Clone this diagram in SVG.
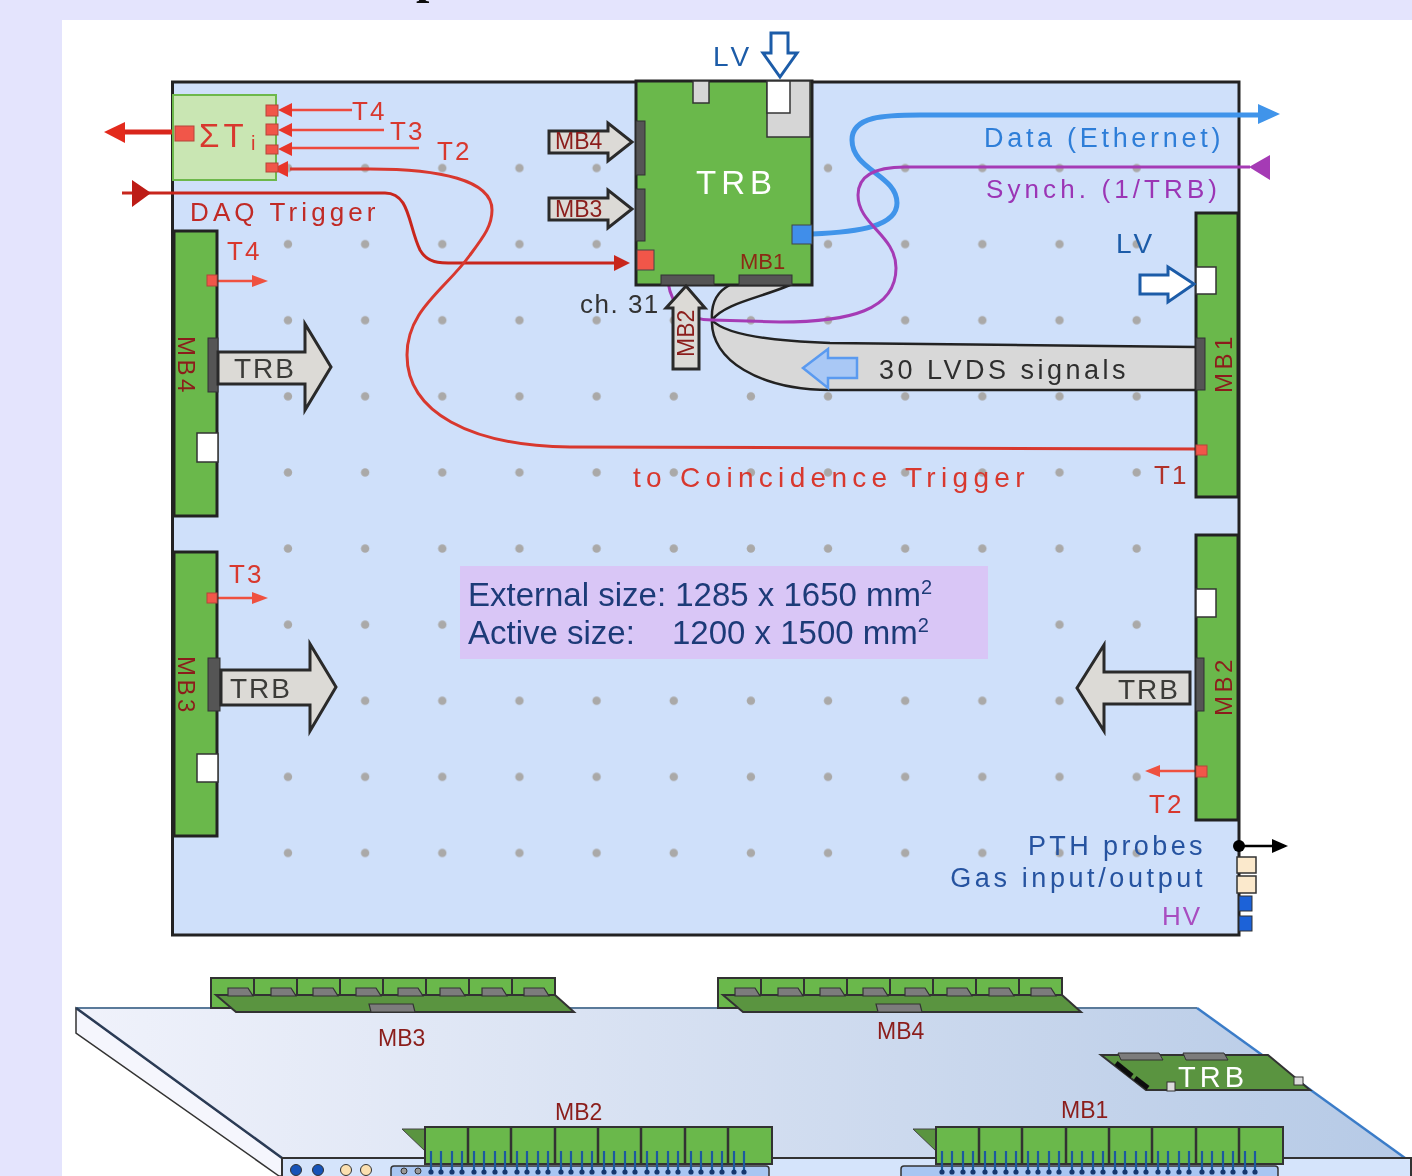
<svg xmlns="http://www.w3.org/2000/svg" xmlns:xlink="http://www.w3.org/1999/xlink" width="1412" height="1176" viewBox="0 0 1412 1176">
<style>
text{font-family:"Liberation Sans",Arial,sans-serif}
.board{fill:#6bb84c;stroke:#222;stroke-width:3}
.conn{fill:#555;stroke:#333;stroke-width:1}
.white{fill:#fff;stroke:#333;stroke-width:1.5}
.grey{fill:#d6d6d6;stroke:#333;stroke-width:1.5}
.fat{fill:#dcdad6;stroke:#2a2a2a;stroke-width:3}
.hollow{fill:#fff;stroke:#1d5ca8;stroke-width:3}
.sq{fill:#f1564a;stroke:#b5443a;stroke-width:1}
.red{fill:#d8382e}
.t26{font-size:26px;letter-spacing:2px}
.mb{font-size:23px;fill:#8b1f1a}
.mbv{font-size:24px;letter-spacing:3.500px;fill:#8b1f1a}
.trb{font-size:28px;letter-spacing:2px;fill:#3a3a38}
.small3d{font-size:23px;fill:#8b1f1a}
</style>
<defs>
<filter id="soft" x="0" y="0" width="100%" height="100%"><feGaussianBlur stdDeviation="0.5"/></filter>
<pattern id="dots" x="249.500" y="130" width="77.150" height="76.100" patternUnits="userSpaceOnUse"><circle cx="38.500" cy="38" r="4.200" fill="#aaa9a8"/></pattern>
<linearGradient id="panel" x1="0" x2="1" y1="0" y2="0"><stop offset="0" stop-color="#f0f2fb"/><stop offset="1" stop-color="#b6cae6"/></linearGradient>
<g id="cell3d"><rect x="0" y="0" width="43" height="30" fill="#6bb84c" stroke="#333" stroke-width="2"/></g>
<g id="chip"><path d="M12 16h20l5 8H12z" fill="#7c7c7c" stroke="#333" stroke-width="1.200"/></g>
<g id="top3d">
<use xlink:href="#cell3d" x="0"/><use xlink:href="#cell3d" x="43"/><use xlink:href="#cell3d" x="86"/><use xlink:href="#cell3d" x="129"/><use xlink:href="#cell3d" x="172"/><use xlink:href="#cell3d" x="215"/><use xlink:href="#cell3d" x="258"/><use xlink:href="#cell3d" x="301"/>
<path d="M5 17H344L363 34H25Z" fill="#5a9440" stroke="#333" stroke-width="2"/>
<use xlink:href="#chip" x="5" y="-6"/><use xlink:href="#chip" x="48" y="-6"/><use xlink:href="#chip" x="90" y="-6"/><use xlink:href="#chip" x="133" y="-6"/><use xlink:href="#chip" x="175" y="-6"/><use xlink:href="#chip" x="217" y="-6"/><use xlink:href="#chip" x="259" y="-6"/><use xlink:href="#chip" x="301" y="-6"/>
<path d="M158 26h44l2 8h-44z" fill="#7c7c7c" stroke="#333" stroke-width="1.200"/>
</g>
<g id="pins"><path d="M6 24V46M16 24V46M27 24V46M37 24V46" stroke="#1d5a9e" stroke-width="2.200" fill="none"/><g fill="#14386e"><circle cx="6" cy="45" r="2.600"/><circle cx="16" cy="45" r="2.600"/><circle cx="27" cy="45" r="2.600"/><circle cx="37" cy="45" r="2.600"/></g></g>
<g id="pins2"><path d="M6 24V46M16 24V46" stroke="#1d5a9e" stroke-width="2.200" fill="none"/><g fill="#14386e"><circle cx="6" cy="45" r="2.600"/><circle cx="16" cy="45" r="2.600"/></g></g>
<g id="front3d">
<path d="M-23 2H0V24Z" fill="#5a9440" stroke="#444" stroke-width="1"/>
<rect x="0" y="0" width="347" height="37" fill="#6bb84c" stroke="#333" stroke-width="2"/>
<path d="M43 0V37M86 0V37M130 0V37M173 0V37M216 0V37M260 0V37M303 0V37" stroke="#333" stroke-width="2.500"/>
<use xlink:href="#pins"/><use xlink:href="#pins" x="43"/><use xlink:href="#pins" x="86"/><use xlink:href="#pins" x="130"/><use xlink:href="#pins" x="173"/><use xlink:href="#pins" x="216"/><use xlink:href="#pins" x="260"/><use xlink:href="#pins2" x="303"/>
</g>
</defs>
<g filter="url(#soft)">
<rect id="page" width="1412" height="1176" fill="#e4e4fd"/>
<rect x="62" y="20" width="1350" height="1156" fill="#fff"/>
<text x="416" y="-7" font-size="48" font-weight="bold" style="font-family:'Liberation Serif',serif" fill="#111">p</text>

<g id="chamber">
<rect x="172.500" y="82" width="1066.500" height="853" fill="#cfe0fa" stroke="#222" stroke-width="3"/>
<rect x="249.500" y="130" width="925" height="762" fill="url(#dots)"/>
</g>

<g id="size-note">
<rect x="460" y="566" width="528" height="93" fill="#d9c6f6"/>
<text x="468" y="606" font-size="33" fill="#1f3a78">External size: 1285 x 1650 mm<tspan font-size="20" dy="-12">2</tspan></text>
<text x="468" y="644" font-size="33" fill="#1f3a78">Active size:</text>
<text x="672" y="644" font-size="33" fill="#1f3a78">1200 x 1500 mm<tspan font-size="20" dy="-12">2</tspan></text>
</g>

<g id="cable-fan">
<path d="M1197 347L830 343C770 341 725 335 712 320C725 303 760 298 790 285L730 285C716 292 711 305 712 320C710 360 760 390 830 390L1197 390Z" fill="#d8d8d8" stroke="#222" stroke-width="2.500"/>
<path d="M803 368L828 349V358H857V378H828V388Z" fill="#a9c8f5" stroke="#5a9af0" stroke-width="2.500"/>
<text x="879" y="379" font-size="27" letter-spacing="3.500" fill="#2f2f2f">30 LVDS signals</text>
</g>

<g id="connectors" fill="none">
<path d="M812 234C860 232 897 226 897 203C897 175 852 170 852 140C852 116 885 115 920 115H1258" stroke="#3f94ea" stroke-width="5"/>
<path d="M1280 114L1258 104V124Z" fill="#3f94ea"/>
<path d="M1250 167H905C880 167 858 173 858 195C858 225 896 235 896 268C896 310 850 322 780 322L712 320C690 320 672 310 668 282" stroke="#a53bb5" stroke-width="3"/>
<path d="M1249 167L1270 155V180Z" fill="#a53bb5"/>
<path d="M122 193H385C410 193 408 225 420 250C428 264 440 263 460 263H614" stroke="#c8261e" stroke-width="3"/>
<path d="M132 180L151 193L132 207Z" fill="#bd1a14"/>
<path d="M630 263L614 255V271Z" fill="#c8261e"/>
<path d="M1200 449L570 447C470 446 407 412 407 355C407 310 445 290 470 255C485 235 492 225 492 210C492 180 440 169 370 169H290" stroke="#d8382e" stroke-width="3"/>
<path d="M176 132H124" stroke="#d9261c" stroke-width="5"/>
<path d="M104 132L125 122V143Z" fill="#e32a1f"/>
<path d="M352 110H292M384 130H292M419 148H292" stroke="#ee4a3c" stroke-width="2.500"/>
<path d="M278 110L292 103V117ZM278 130L292 123V137ZM278 149L292 142V156ZM272 169L288 161V177Z" fill="#e8352b"/>
<path d="M217 281H252" stroke="#ef5140" stroke-width="2.500"/><path d="M268 281L252 275V287Z" fill="#ef5140"/>
<path d="M217 598H252" stroke="#ef5140" stroke-width="2.500"/><path d="M268 598L252 592V604Z" fill="#ef5140"/>
<path d="M1196 771H1160" stroke="#ef5140" stroke-width="2.500"/><path d="M1145 771L1160 765V777Z" fill="#ef5140"/>
<path d="M1238 846H1272" stroke="#000" stroke-width="2.500"/><path d="M1288 846L1272 839V853Z" fill="#000"/>
<circle cx="1239" cy="846" r="6" fill="#000"/>
</g>

<g id="sum-box">
<rect x="173" y="95" width="103" height="85" fill="#c9e6b3" stroke="#6db84c" stroke-width="2"/>
<rect x="175" y="126" width="19" height="15" class="sq"/>
<rect x="266" y="105" width="12" height="11" class="sq"/><rect x="266" y="124" width="12" height="11" class="sq"/><rect x="266" y="145" width="12" height="9" class="sq"/><rect x="266" y="163" width="12" height="9" class="sq"/>
<text x="199" y="147" font-size="33" letter-spacing="4" class="red">ΣT</text><text x="251" y="150" font-size="20" class="red">i</text>
</g>

<g id="trb">
<rect x="636" y="81" width="176" height="204" class="board"/>
<rect x="767" y="81" width="43" height="56" class="grey"/>
<rect x="767" y="81" width="23" height="32" class="white"/>
<rect x="693" y="81" width="16" height="22" class="grey"/>
<rect x="636" y="121" width="9" height="54" class="conn"/><rect x="636" y="189" width="9" height="52" class="conn"/>
<rect x="661" y="275" width="53" height="10" class="conn"/><rect x="739" y="275" width="53" height="10" class="conn"/>
<rect x="637" y="250" width="17" height="20" fill="#f1564a" stroke="#444" stroke-width="1"/>
<rect x="792" y="225" width="20" height="19" fill="#3f8eea" stroke="#444" stroke-width="1"/>
<text x="696" y="194" font-size="33" letter-spacing="5" fill="#fff">TRB</text>
<text x="740" y="269" font-size="22" fill="#8b2a12">MB1</text>
</g>

<g id="trb-inputs">
<path class="fat" d="M549 131H608V123L632 142L608 161V153H549Z"/>
<text x="555" y="149" class="mb">MB4</text>
<path class="fat" d="M549 198H608V190L632 209L608 228V220H549Z"/>
<text x="555" y="217" class="mb">MB3</text>
<path class="fat" d="M673 369V308H666L686 286L705 308H699V369Z"/>
<text transform="translate(694 357) rotate(-90)" class="mb">MB2</text>
<text x="580" y="313" font-size="26" letter-spacing="1.500" fill="#333">ch. 31</text>
</g>

<g id="mb4">
<rect x="174" y="231" width="43" height="285" class="board"/>
<rect x="208" y="338" width="10" height="54" class="conn"/>
<rect x="197" y="433" width="21" height="29" class="white"/>
<rect x="207" y="275" width="10" height="11" class="sq"/>
<text transform="translate(178 336) rotate(90)" class="mbv">MB4</text>
<path class="fat" d="M218 352H305V324L331 367L305 410V384H218Z"/>
<text x="234" y="378" class="trb">TRB</text>
</g>
<g id="mb3">
<rect x="174" y="552" width="43" height="284" class="board"/>
<rect x="208" y="658" width="12" height="53" class="conn"/>
<rect x="197" y="754" width="21" height="28" class="white"/>
<rect x="207" y="593" width="10" height="10" class="sq"/>
<text transform="translate(178 656) rotate(90)" class="mbv">MB3</text>
<path class="fat" d="M221 670H310V644L336 687L310 731V705H221Z"/>
<text x="230" y="698" class="trb">TRB</text>
</g>
<g id="mb1">
<rect x="1196" y="213" width="42" height="284" class="board"/>
<rect x="1196" y="338" width="9" height="52" class="conn"/>
<rect x="1196" y="267" width="20" height="27" class="white"/>
<rect x="1196" y="445" width="11" height="10" class="sq"/>
<text transform="translate(1232 393) rotate(-90)" class="mbv">MB1</text>
</g>
<g id="mb2">
<rect x="1196" y="535" width="42" height="285" class="board"/>
<rect x="1196" y="658" width="8" height="53" class="conn"/>
<rect x="1196" y="589" width="20" height="28" class="white"/>
<rect x="1196" y="766" width="11" height="11" class="sq"/>
<text transform="translate(1232 716) rotate(-90)" class="mbv">MB2</text>
<path class="fat" d="M1190 672H1104V645L1077 688L1104 731V704H1190Z"/>
<text x="1118" y="699" class="trb">TRB</text>
</g>

<g id="lv-arrows">
<path class="hollow" d="M771 33H788V53H797L780 77L763 53H771Z"/>
<text x="713" y="66" font-size="28" letter-spacing="4" fill="#1d5ca8">LV</text>
<path class="hollow" d="M1140 275H1168V267L1194 284L1168 302V294H1140Z"/>
<text x="1116" y="253" font-size="28" letter-spacing="4" fill="#1d5ca8">LV</text>
</g>

<g id="labels">
<text x="352" y="120" class="t26" fill="#d8382e">T4</text>
<text x="390" y="140" class="t26" fill="#d8382e">T3</text>
<text x="437" y="160" class="t26" fill="#d8382e">T2</text>
<text x="190" y="221" font-size="26" letter-spacing="4.100" fill="#c02a25">DAQ Trigger</text>
<text x="227" y="260" class="t26" fill="#d8382e">T4</text>
<text x="229" y="583" class="t26" fill="#d8382e">T3</text>
<text x="984" y="147" font-size="27" letter-spacing="3.700" fill="#2e7ed8">Data (Ethernet)</text>
<text x="986" y="198" font-size="26" letter-spacing="4.100" fill="#9b36b5">Synch. (1/TRB)</text>
<text x="633" y="487" font-size="28" letter-spacing="5.300" fill="#d8382e">to Coincidence Trigger</text>
<text x="1154" y="484" class="t26" fill="#b0302a">T1</text>
<text x="1149" y="813" class="t26" fill="#d8382e">T2</text>
<text x="1206" y="855" font-size="27" letter-spacing="3.400" text-anchor="end" fill="#2553a0">PTH probes</text>
<text x="1206" y="887" font-size="27" letter-spacing="3.600" text-anchor="end" fill="#2553a0">Gas input/output</text>
<text x="1202" y="925" font-size="26" letter-spacing="2" text-anchor="end" fill="#a84dc0">HV</text>
</g>

<g id="ports">
<rect x="1237" y="857" width="19" height="16" fill="#fbe9cc" stroke="#333" stroke-width="1.500"/>
<rect x="1237" y="876" width="19" height="17" fill="#fbe9cc" stroke="#333" stroke-width="1.500"/>
<rect x="1239" y="896" width="13" height="15" fill="#1a62d8" stroke="#333"/>
<rect x="1239" y="916" width="13" height="15" fill="#1a62d8" stroke="#333"/>
</g>

<g id="perspective">
<path d="M76 1008L282 1158V1176H279L76 1033Z" fill="#f5f6fd" stroke="#333" stroke-width="1.500"/>
<path d="M76 1008H1197L1405 1158H282Z" fill="url(#panel)"/>
<path d="M76 1008H1197" stroke="#5a7a9a" stroke-width="2" fill="none"/>
<path d="M76 1008L282 1158" stroke="#2a3a55" stroke-width="2.500" fill="none"/>
<path d="M1197 1008L1405 1158" stroke="#3a7cc8" stroke-width="2.500" fill="none"/>
<rect x="282" y="1158" width="1129" height="20" fill="#d5e4fb" stroke="#333" stroke-width="2"/>
<circle cx="296" cy="1170" r="5.500" fill="#1452b8" stroke="#333"/><circle cx="318" cy="1170" r="5.500" fill="#1452b8" stroke="#333"/>
<circle cx="346" cy="1170" r="5.500" fill="#fbe0b0" stroke="#333"/><circle cx="366" cy="1170" r="5.500" fill="#fbe0b0" stroke="#333"/>
</g>

<g id="board-mb3"><use xlink:href="#top3d" x="211" y="978"/><text x="378" y="1046" class="small3d">MB3</text></g>
<g id="board-mb4"><use xlink:href="#top3d" x="718" y="978"/><text x="877" y="1039" class="small3d">MB4</text></g>
<g id="board-mb2">
<rect x="391" y="1166" width="378" height="14" rx="3" fill="#a8c6f2" stroke="#333" stroke-width="1.500"/>
<circle cx="404" cy="1171" r="3" fill="#999" stroke="#333"/><circle cx="418" cy="1171" r="3" fill="#999" stroke="#333"/>
<use xlink:href="#front3d" x="425" y="1127"/><text x="555" y="1120" class="small3d">MB2</text>
</g>
<g id="board-mb1">
<rect x="901" y="1166" width="377" height="14" rx="3" fill="#a8c6f2" stroke="#333" stroke-width="1.500"/>
<use xlink:href="#front3d" x="936" y="1127"/><text x="1061" y="1118" class="small3d">MB1</text>
</g>
<g id="board-trb">
<path d="M1101 1055H1268L1310 1090H1146Z" fill="#5a9440" stroke="#333" stroke-width="2"/>
<path d="M1118 1053h41l4 7h-42zM1183 1053h41l4 7h-42z" fill="#7c7c7c" stroke="#333"/>
<path d="M1116 1063L1132 1076M1135 1078L1148 1088" stroke="#111" stroke-width="5"/>
<rect x="1167" y="1082" width="8" height="9" fill="#ddd" stroke="#333"/>
<rect x="1294" y="1077" width="9" height="8" fill="#ddd" stroke="#333"/>
<text x="1178" y="1087" font-size="29" letter-spacing="4" fill="#fff">TRB</text>
</g>
</g>
</svg>
